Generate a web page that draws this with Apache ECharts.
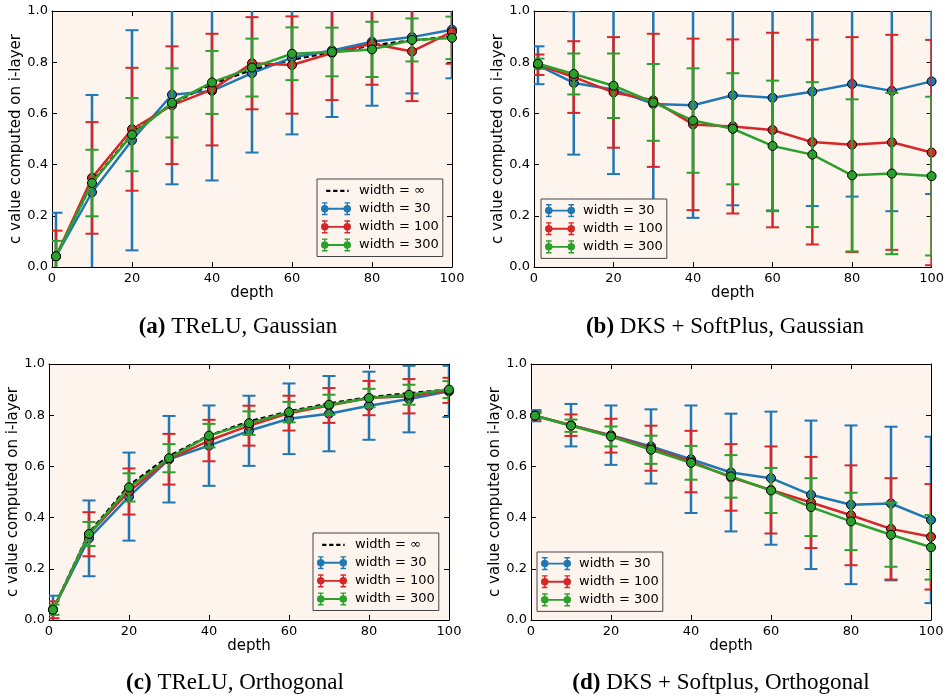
<!DOCTYPE html>
<html>
<head>
<meta charset="utf-8">
<script src="https://cdn.jsdelivr.net/npm/echarts@6/dist/echarts.min.js"></script>
<style>
html, body { margin: 0; padding: 0; background: #fff; }
#chart { width: 947px; height: 698px; }
</style>
</head>
<body>
<div id="chart"></div>
<script>
// depth of the network (x values)
var depth = [1, 10, 20, 30, 40, 50, 60, 70, 80, 90, 100];
var xTicks = [0, 20, 40, 60, 80, 100];
var yTicks = [0.0, 0.2, 0.4, 0.6, 0.8, 1.0];

// (a) TReLU, Gaussian
var aInf = [0.04, 0.33, 0.52, 0.64, 0.715, 0.77, 0.81, 0.84, 0.865, 0.885, 0.90];
var a30 = [0.042, 0.292, 0.495, 0.673, 0.688, 0.757, 0.818, 0.846, 0.880, 0.898, 0.927];
var a30Err = [0.17, 0.38, 0.43, 0.35, 0.35, 0.31, 0.30, 0.26, 0.25, 0.22, 0.19];
var a100 = [0.042, 0.348, 0.538, 0.632, 0.693, 0.796, 0.789, 0.836, 0.872, 0.842, 0.918];
var a100Err = [0.10, 0.218, 0.24, 0.23, 0.218, 0.18, 0.19, 0.184, 0.16, 0.194, 0.124];
var a300 = [0.042, 0.328, 0.517, 0.641, 0.721, 0.779, 0.833, 0.840, 0.850, 0.887, 0.895];
var a300Err = [0.06, 0.13, 0.143, 0.135, 0.123, 0.113, 0.103, 0.095, 0.108, 0.084, 0.083];

// (b) DKS + SoftPlus, Gaussian
var b30 = [0.788, 0.719, 0.693, 0.637, 0.632, 0.671, 0.661, 0.685, 0.715, 0.688, 0.725];
var b30Err = [0.074, 0.28, 0.33, 0.42, 0.44, 0.43, 0.44, 0.447, 0.44, 0.47, 0.44];
var b100 = [0.79, 0.742, 0.682, 0.651, 0.557, 0.549, 0.535, 0.488, 0.478, 0.487, 0.447];
var b100Err = [0.04, 0.14, 0.216, 0.26, 0.335, 0.34, 0.38, 0.40, 0.42, 0.42, 0.44];
var b300 = [0.794, 0.754, 0.708, 0.643, 0.572, 0.540, 0.473, 0.439, 0.358, 0.365, 0.355];
var b300Err = [0.02, 0.08, 0.126, 0.15, 0.204, 0.217, 0.255, 0.283, 0.297, 0.315, 0.31];

// (c) TReLU, Orthogonal
var cInf = [0.04, 0.34, 0.525, 0.64, 0.72, 0.775, 0.815, 0.845, 0.87, 0.885, 0.90];
var c30 = [0.04, 0.319, 0.482, 0.628, 0.681, 0.739, 0.786, 0.806, 0.837, 0.863, 0.893];
var c30Err = [0.055, 0.148, 0.172, 0.169, 0.157, 0.137, 0.138, 0.147, 0.133, 0.13, 0.10];
var c100 = [0.04, 0.335, 0.502, 0.628, 0.701, 0.759, 0.808, 0.838, 0.867, 0.874, 0.897];
var c100Err = [0.033, 0.086, 0.09, 0.099, 0.081, 0.078, 0.068, 0.068, 0.067, 0.067, 0.049];
var c300 = [0.04, 0.336, 0.518, 0.632, 0.720, 0.769, 0.812, 0.841, 0.867, 0.880, 0.90];
var c300Err = [0.02, 0.047, 0.055, 0.055, 0.046, 0.046, 0.04, 0.039, 0.036, 0.039, 0.033];

// (d) DKS + Softplus, Orthogonal
var d30 = [0.798, 0.761, 0.722, 0.678, 0.628, 0.576, 0.554, 0.489, 0.45, 0.455, 0.391];
var d30Err = [0.022, 0.083, 0.116, 0.145, 0.21, 0.23, 0.26, 0.29, 0.31, 0.30, 0.325];
var d100 = [0.798, 0.761, 0.72, 0.671, 0.619, 0.557, 0.508, 0.459, 0.409, 0.356, 0.325];
var d100Err = [0.015, 0.042, 0.066, 0.088, 0.12, 0.13, 0.17, 0.178, 0.195, 0.198, 0.206];
var d300 = [0.798, 0.759, 0.717, 0.665, 0.614, 0.561, 0.506, 0.441, 0.385, 0.333, 0.284];
var d300Err = [0.01, 0.024, 0.039, 0.055, 0.066, 0.083, 0.088, 0.113, 0.112, 0.125, 0.126];

var widthNames = ['width = 30', 'width = 100', 'width = 300'];
var infName = 'width = \u221e';

var BLUE = '#1f77b4', RED = '#d62728', GREEN = '#2ca02c';
var colors = [BLUE, RED, GREEN];
var BG = '#fef4ee';
var FONT = 'DejaVu Sans';
var SERIF = 'Liberation Serif';

// layout of the four panels
var panels = [
    { left: 52, top: 11, inf: aInf, sets: [[a30, a30Err], [a100, a100Err], [a300, a300Err]],
      legend: { left: 317, top: 179 }, cap: '{b|(a)} TReLU, Gaussian', capX: 238, capY: 327 },
    { left: 534, top: 11, inf: null, sets: [[b30, b30Err], [b100, b100Err], [b300, b300Err]],
      legend: { left: 541, top: 199 }, cap: '{b|(b)} DKS + SoftPlus, Gaussian', capX: 725, capY: 327 },
    { left: 49, top: 364, inf: cInf, sets: [[c30, c30Err], [c100, c100Err], [c300, c300Err]],
      legend: { left: 313, top: 533 }, cap: '{b|(c)} TReLU, Orthogonal', capX: 235, capY: 683 },
    { left: 531, top: 364, inf: null, sets: [[d30, d30Err], [d100, d100Err], [d300, d300Err]],
      legend: { left: 537, top: 552 }, cap: '{b|(d)} DKS + Softplus, Orthogonal', capX: 721, capY: 683 }
];

// errorbar legend glyph: two capped bars, a connecting line and two dots
var errIcon = 'path://' +
    'M6.5 0H9.5V28H6.5Z M2 0H14V3H2Z M2 25H14V28H2Z ' +
    'M54.5 0H57.5V28H54.5Z M50 0H62V3H50Z M50 25H62V28H50Z ' +
    'M8 12H56V16H8Z ' +
    'M0 14A8 8 0 1 1 16 14A8 8 0 1 1 0 14Z ' +
    'M48 14A8 8 0 1 1 64 14A8 8 0 1 1 48 14Z';
// dashed legend glyph (tiny corner specks keep the same 64x28 box)
var dashIcon = 'path://' +
    'M0 0H0.01V0.01H0Z M63.99 27.99H64V28H63.99Z ' +
    'M11 12H20V17H11Z M26 12H35V17H26Z M41 12H50V17H41Z M56 12H59V17H56Z';

function renderErr(params, api) {
    var x = api.value(0);
    var top = api.coord([x, api.value(2)]);
    var bot = api.coord([x, api.value(1)]);
    var c = api.visual('color');
    var w = 6.5;
    return {
        type: 'group',
        children: [
            { type: 'line', shape: { x1: top[0], y1: top[1], x2: bot[0], y2: bot[1] }, style: { stroke: c, lineWidth: 2.5 } },
            { type: 'line', shape: { x1: top[0] - w, y1: top[1], x2: top[0] + w, y2: top[1] }, style: { stroke: c, lineWidth: 2 } },
            { type: 'line', shape: { x1: bot[0] - w, y1: bot[1], x2: bot[0] + w, y2: bot[1] }, style: { stroke: c, lineWidth: 2 } }
        ]
    };
}

var grids = [], xAxes = [], yAxes = [], series = [], legends = [], graphics = [];

panels.forEach(function (p, i) {
    grids.push({ left: p.left, top: p.top, width: 400, height: 256, show: true,
        backgroundColor: BG, borderWidth: 0 });

    var tick = { show: true, inside: true, length: 5, lineStyle: { color: '#000', width: 1 } };
    var line = { show: true, onZero: false, lineStyle: { color: '#000', width: 1 } };

    xAxes.push({
        type: 'value', gridIndex: i, min: 0, max: 100, interval: 20, position: 'bottom',
        name: 'depth', nameLocation: 'middle', nameGap: 17,
        nameTextStyle: { fontFamily: FONT, fontSize: 15, color: '#000' },
        axisLine: line, axisTick: tick, splitLine: { show: false },
        axisLabel: { fontFamily: FONT, fontSize: 13, color: '#000', margin: 5 }
    });
    xAxes.push({
        type: 'value', gridIndex: i, min: 0, max: 100, interval: 20, position: 'top',
        axisLine: line, axisTick: tick, splitLine: { show: false }, axisLabel: { show: false }
    });
    yAxes.push({
        type: 'value', gridIndex: i, min: 0, max: 1, interval: 0.2, position: 'left',
        name: 'c value computed on i-layer', nameLocation: 'middle', nameGap: 27,
        nameTextStyle: { fontFamily: FONT, fontSize: 15, color: '#000' },
        axisLine: line, axisTick: tick, splitLine: { show: false },
        axisLabel: { fontFamily: FONT, fontSize: 13, color: '#000', margin: 4,
            formatter: function (v) { return v.toFixed(1); } }
    });
    yAxes.push({
        type: 'value', gridIndex: i, min: 0, max: 1, interval: 0.2, position: 'right',
        axisLine: line, axisTick: tick, splitLine: { show: false }, axisLabel: { show: false }
    });

    var xi = i * 2, yi = i * 2;
    var legendData = [];

    if (p.inf) {
        series.push({
            type: 'line', name: infName, xAxisIndex: xi, yAxisIndex: yi, z: 2,
            data: depth.map(function (d, k) { return [d, p.inf[k]]; }),
            symbol: 'none', lineStyle: { color: '#000', width: 2.5, type: [5, 3] },
            itemStyle: { color: '#000' }
        });
        legendData.push({ name: infName, icon: dashIcon });
    }

    p.sets.forEach(function (s, j) {
        var mean = s[0], err = s[1];
        series.push({
            type: 'custom', name: 'err ' + widthNames[j], xAxisIndex: xi, yAxisIndex: yi,
            z: 3 + j * 2, clip: true, renderItem: renderErr,
            itemStyle: { color: colors[j] },
            data: depth.map(function (d, k) { return [d, mean[k] - err[k], mean[k] + err[k]]; })
        });
        series.push({
            type: 'line', name: widthNames[j], xAxisIndex: xi, yAxisIndex: yi, z: 4 + j * 2,
            data: depth.map(function (d, k) { return [d, mean[k]]; }),
            symbol: 'circle', symbolSize: 9, showSymbol: true,
            lineStyle: { color: colors[j], width: 2.5 },
            itemStyle: { color: colors[j], borderColor: '#000', borderWidth: 1 }
        });
        legendData.push({ name: widthNames[j], icon: errIcon });
    });

    legends.push({
        orient: 'vertical', left: p.legend.left, top: p.legend.top,
        data: legendData, itemWidth: 30, itemHeight: 14, itemGap: 5,
        padding: [5, 4, 5, 4], backgroundColor: BG, borderColor: '#444', borderWidth: 1,
        borderRadius: 0, selectedMode: false,
        itemStyle: { borderWidth: 0 },
        textStyle: { fontFamily: FONT, fontSize: 13, color: '#000', padding: [0, 0, 0, 3] }
    });

    graphics.push({
        type: 'text', x: p.capX, y: p.capY,
        style: {
            text: p.cap, fill: '#000', fontFamily: SERIF, fontSize: 23,
            align: 'center', verticalAlign: 'middle',
            rich: { b: { fontFamily: SERIF, fontSize: 23, fontWeight: 'bold' } }
        }
    });
});

var chart = echarts.init(document.getElementById('chart'));
chart.setOption({
    animation: false,
    backgroundColor: '#fff',
    grid: grids,
    xAxis: xAxes,
    yAxis: yAxes,
    legend: legends,
    series: series,
    graphic: graphics
});
</script>
</body>
</html>
